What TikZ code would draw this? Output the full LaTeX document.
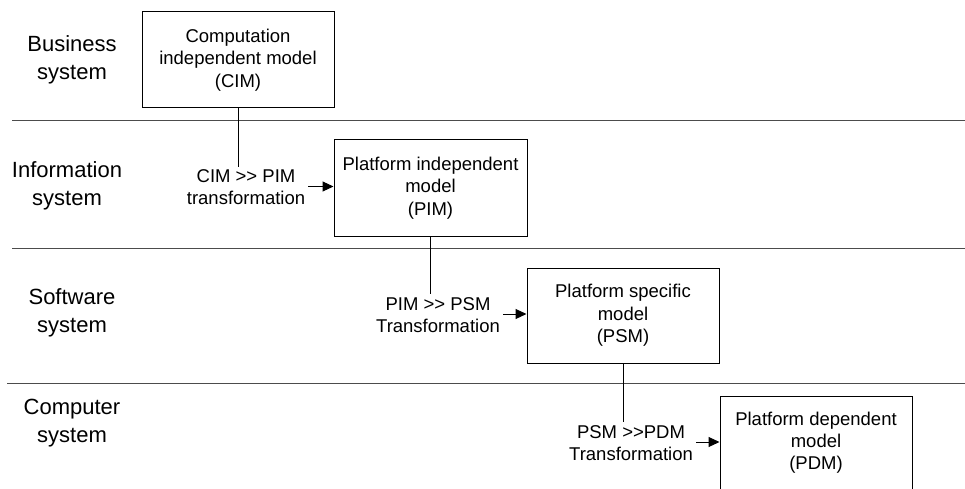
\documentclass[tikz,border=0pt]{standalone}
\usepackage{fontspec}
\setmainfont{Liberation Sans}
\usetikzlibrary{arrows.meta}
\begin{document}
\begin{tikzpicture}[x=1pt,y=-1pt,
  model/.style={draw=black, line width=1pt, rectangle, align=center,
    font=\fontsize{18.5}{22.5}\selectfont, inner sep=0pt},
  trlabel/.style={align=center, font=\fontsize{18.5}{22}\selectfont, inner sep=3pt},
  lane/.style={align=center, font=\fontsize{22}{27.5}\selectfont, inner sep=0pt},
  divider/.style={draw=black!70, line width=1pt},
  link/.style={draw=black, line width=1pt},
  flow/.style={draw=black, line width=1pt, -{Triangle[length=11pt,width=10pt]}}]
\useasboundingbox (0,0) rectangle (965,489);
\clip (0,0) rectangle (965,489);

% lane dividers
\coordinate (d1a) at (12,121);  \coordinate (d1b) at (965,121);
\coordinate (d2a) at (12,248);  \coordinate (d2b) at (965,248);
\coordinate (d3a) at (7,383);   \coordinate (d3b) at (965,383);
\draw[divider] (d1a) -- (d1b);
\draw[divider] (d2a) -- (d2b);
\draw[divider] (d3a) -- (d3b);

% lane titles
\node[lane] (l1) at (72,60)  {Business\\system};
\node[lane] (l2) at (67,186) {Information\\system};
\node[lane] (l3) at (72,313) {Software\\system};
\node[lane] (l4) at (72,423) {Computer\\system};

% models
\node[model, minimum width=192pt, minimum height=96pt] (cim) at (238,60)
  {Computation\\independent model\\(CIM)};
\node[model, minimum width=193pt, minimum height=96pt] (pim) at (430.5,188)
  {Platform independent\\model\\(PIM)};
\node[model, minimum width=192pt, minimum height=95pt] (psm) at (623,315.5)
  {Platform specific\\model\\(PSM)};
\node[model, minimum width=192pt, minimum height=130pt, anchor=north] (pdm) at (816,396) {};
\node[trlabel, inner sep=0pt] (pdmtext) at (816,443) {Platform dependent\\model\\(PDM)};

% transformations
\node[trlabel] (t1) at (246,187.5) {CIM >{}> PIM\\transformation};
\node[trlabel] (t2) at (438,315)   {PIM >{}> PSM\\Transformation};
\node[trlabel] (t3) at (631,443)   {PSM >{}>PDM\\Transformation};

\draw[link] (cim.south) -- (cim.south |- t1.north);
\draw[link] (pim.south) -- (pim.south |- t2.north);
\draw[link] (psm.south) -- (psm.south |- t3.north);

\draw[flow] ([yshift=1pt]t1.east) -- ([yshift=1pt]t1.east -| pim.west);
\draw[flow] ([yshift=1pt]t2.east) -- ([yshift=1pt]t2.east -| psm.west);
\draw[flow] ([yshift=1pt]t3.east) -- ([yshift=1pt]t3.east -| pdm.west);
\end{tikzpicture}
\end{document}
